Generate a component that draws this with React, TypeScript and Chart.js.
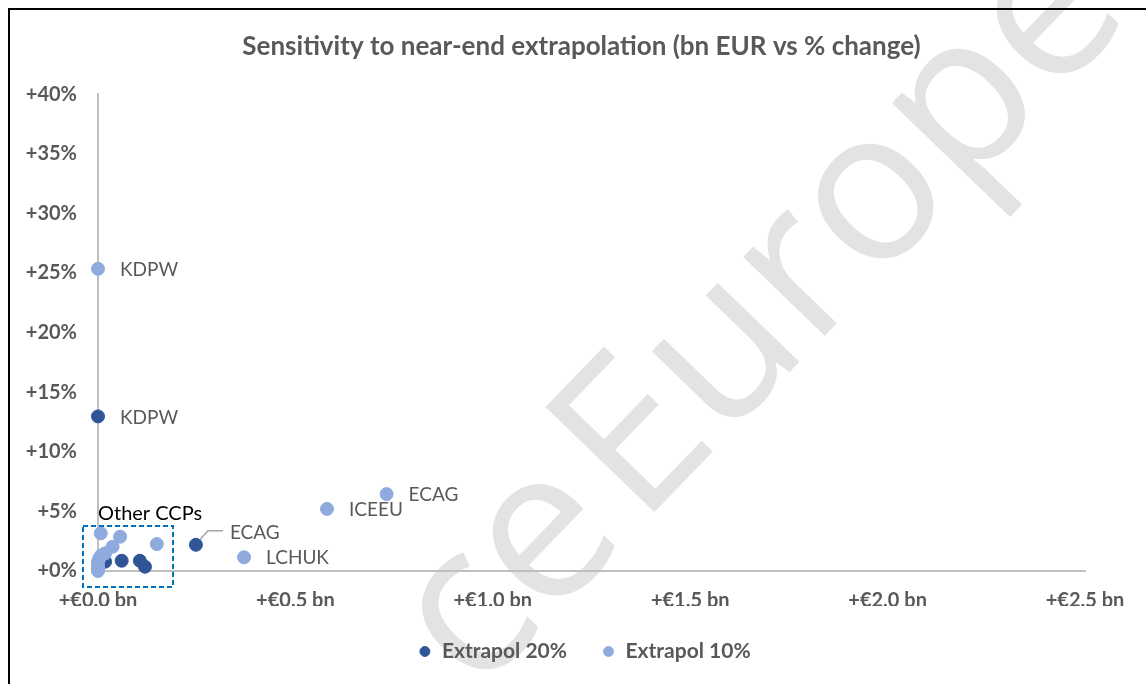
import React, { useEffect, useRef } from 'react';
import { Chart, registerables } from 'chart.js';

Chart.register(...registerables);

// ---------- data ----------
const TITLE = 'Sensitivity to near-end extrapolation (bn EUR vs % change)';
const SERIES_20 = 'Extrapol 20%';
const SERIES_10 = 'Extrapol 10%';

// Extrapol 20% (bn EUR, % change)
const x20 = [0.0, 0.248, 0.018, 0.06, 0.106, 0.119];
const y20 = [12.97, 2.2, 0.78, 0.86, 0.86, 0.36];
const names20 = ['KDPW', 'ECAG', '', '', '', ''];

// Extrapol 10% (bn EUR, % change)
const x10 = [0.0, 0.731, 0.58, 0.37, 0.007, 0.056, 0.037, 0.149, 0.018, 0.008, 0.003, 0.0, 0.0, 0.0, 0.0];
const y10 = [25.35, 6.45, 5.21, 1.15, 3.16, 2.88, 2.04, 2.26, 1.48, 1.3, 1.05, 0.75, 0.45, 0.2, 0.0];
const names10 = ['KDPW', 'ECAG', 'ICEEU', 'LCHUK', '', '', '', '', '', '', '', '', '', '', ''];

const X_TICK_MIN = 0;
const X_TICK_MAX = 2.5;
const X_TICK_STEP = 0.5;
const Y_TICK_MIN = 0;
const Y_TICK_MAX = 40;
const Y_TICK_STEP = 5;

// "Other CCPs" highlight box in data units
const BOX_X = [-0.038, 0.19];
const BOX_Y = [-1.34, 3.77];
const BOX_LABEL = 'Other CCPs';
const BOX_LABEL_POS = [0.0, 4.8];

const WATERMARK_BEFORE = 'ce';
const WATERMARK_AFTER = 'Europe';

// ---------- styles ----------
const FONT = 'Lato, "Liberation Sans", sans-serif';
const DARK = '#2F5597';
const LIGHT = '#8FAADC';
const TEXT = '#595959';
const AXIS = '#BFBFBF';

const pointLabelPlugin = {
  id: 'pointLabels',
  afterLayout(chart: any) {
    // shift title and legend to sit centred over the plot like the original
    const t = chart.titleBlock;
    if (t) {
      t.left += 34;
      t.right += 34;
    }
    const l = chart.legend;
    if (l) {
      l.left += 37;
      l.right += 37;
    }
  },
  beforeDraw(chart: any) {
    const ctx = chart.ctx;
    ctx.save();
    ctx.translate(640, 527);
    ctx.rotate((-46 * Math.PI) / 180);
    ctx.fillStyle = '#E3E3E3';
    ctx.font = `212px "Open Sans", sans-serif`;
    ctx.textBaseline = 'alphabetic';
    ctx.textAlign = 'left';
    ctx.fillText(WATERMARK_AFTER, 0, 0);
    ctx.textAlign = 'right';
    ctx.fillText(WATERMARK_BEFORE, -15, 0);
    ctx.restore();
  },
  afterDatasetsDraw(chart: any) {
    const ctx = chart.ctx;
    const xs = chart.scales.x;
    const ys = chart.scales.y;
    ctx.save();
    // dashed box
    const bx0 = xs.getPixelForValue(BOX_X[0]);
    const bx1 = xs.getPixelForValue(BOX_X[1]);
    const by0 = ys.getPixelForValue(BOX_Y[1]);
    const by1 = ys.getPixelForValue(BOX_Y[0]);
    ctx.strokeStyle = '#0070C0';
    ctx.lineWidth = 2;
    ctx.setLineDash([5, 3]);
    ctx.strokeRect(bx0, by0, bx1 - bx0, by1 - by0);
    ctx.setLineDash([]);

    ctx.font = `20px ${FONT}`;
    ctx.fillStyle = '#000000';
    ctx.textBaseline = 'middle';
    ctx.textAlign = 'left';
    ctx.fillText(BOX_LABEL, xs.getPixelForValue(BOX_LABEL_POS[0]), ys.getPixelForValue(BOX_LABEL_POS[1]));

    ctx.font = `19px ${FONT}`;
    ctx.fillStyle = TEXT;
    chart.data.datasets.forEach((ds: any, di: number) => {
      const meta = chart.getDatasetMeta(di);
      ds.names.forEach((name: string, i: number) => {
        if (!name) return;
        const el = meta.data[i];
        if (ds.callout && ds.callout === name) {
          // leader line to upper right
          ctx.strokeStyle = '#A6A6A6';
          ctx.lineWidth = 1.5;
          ctx.beginPath();
          ctx.moveTo(el.x + 4, el.y - 5);
          ctx.lineTo(el.x + 12, el.y - 14);
          ctx.lineTo(el.x + 27, el.y - 14);
          ctx.stroke();
          ctx.fillText(name, el.x + 34, el.y - 12);
        } else {
          ctx.fillText(name, el.x + 22, el.y + 1);
        }
      });
    });
    ctx.restore();
  },
};

export default function App() {
  const ref = useRef<HTMLCanvasElement | null>(null);

  useEffect(() => {
    if (!ref.current) return;
    const chart = new Chart(ref.current, {
      type: 'scatter',
      data: {
        datasets: [
          {
            label: SERIES_10,
            data: x10.map((x, i) => ({ x, y: y10[i] })),
            backgroundColor: LIGHT,
            borderColor: LIGHT,
            pointRadius: 6.5,
            pointHoverRadius: 6.5,
            clip: false,
            names: names10,
          } as any,
          {
            label: SERIES_20,
            data: x20.map((x, i) => ({ x, y: y20[i] })),
            backgroundColor: DARK,
            borderColor: DARK,
            pointRadius: 6.5,
            pointHoverRadius: 6.5,
            clip: false,
            names: names20,
            callout: 'ECAG',
          } as any,
        ],
      },
      options: {
        animation: false,
        responsive: false,
        maintainAspectRatio: false,
        layout: { padding: { left: 10, right: 61, top: 0, bottom: 12 } },
        plugins: {
          title: {
            display: true,
            text: TITLE,
            color: TEXT,
            font: { family: FONT, size: 26, weight: 'bold' },
            padding: { top: 31, bottom: 32 },
          },
          legend: {
            position: 'bottom',
            reverse: true,
            labels: {
              usePointStyle: true,
              pointStyle: 'circle',
              boxWidth: 13,
              boxHeight: 7,
              padding: 35,
              color: TEXT,
              font: { family: FONT, size: 21, weight: 'bold' },
            },
          },
          tooltip: { enabled: false },
        },
        scales: {
          x: {
            type: 'linear',
            min: X_TICK_MIN,
            max: X_TICK_MAX,
            grid: { display: false, drawTicks: false },
            border: { display: true, color: AXIS, width: 2 },
            ticks: {
              stepSize: X_TICK_STEP,
              padding: 18,
              color: TEXT,
              font: { family: FONT, size: 20, weight: 'bold' },
              callback: (v: any) => `+€${Number(v).toFixed(1)} bn`,
            },
            afterFit: (s: any) => {
              s.height = 35;
            },
          },
          y: {
            type: 'linear',
            min: Y_TICK_MIN,
            max: Y_TICK_MAX,
            grid: { display: false, drawTicks: false },
            border: { display: true, color: AXIS, width: 2 },
            ticks: {
              stepSize: Y_TICK_STEP,
              padding: 21,
              color: TEXT,
              font: { family: FONT, size: 20, weight: 'bold' },
              callback: (v: any) => `+${v}%`,
            },
            afterFit: (s: any) => {
              s.width = 88;
            },
          },
        },
      },
      plugins: [pointLabelPlugin],
    });
    return () => chart.destroy();
  }, []);

  return (
    <div style={{ position: 'fixed', left: 0, top: 0, width: 1146, height: 684, background: '#fff', overflow: 'hidden' }}>
      <canvas ref={ref} width={1146} height={684} style={{ position: 'absolute', left: 0, top: 0 }} />
      <div
        style={{
          position: 'absolute',
          left: 8,
          top: 8,
          width: 1200,
          height: 800,
          borderLeft: '2.5px solid #000',
          borderTop: '2.5px solid #000',
          pointerEvents: 'none',
        }}
      />
    </div>
  );
}
